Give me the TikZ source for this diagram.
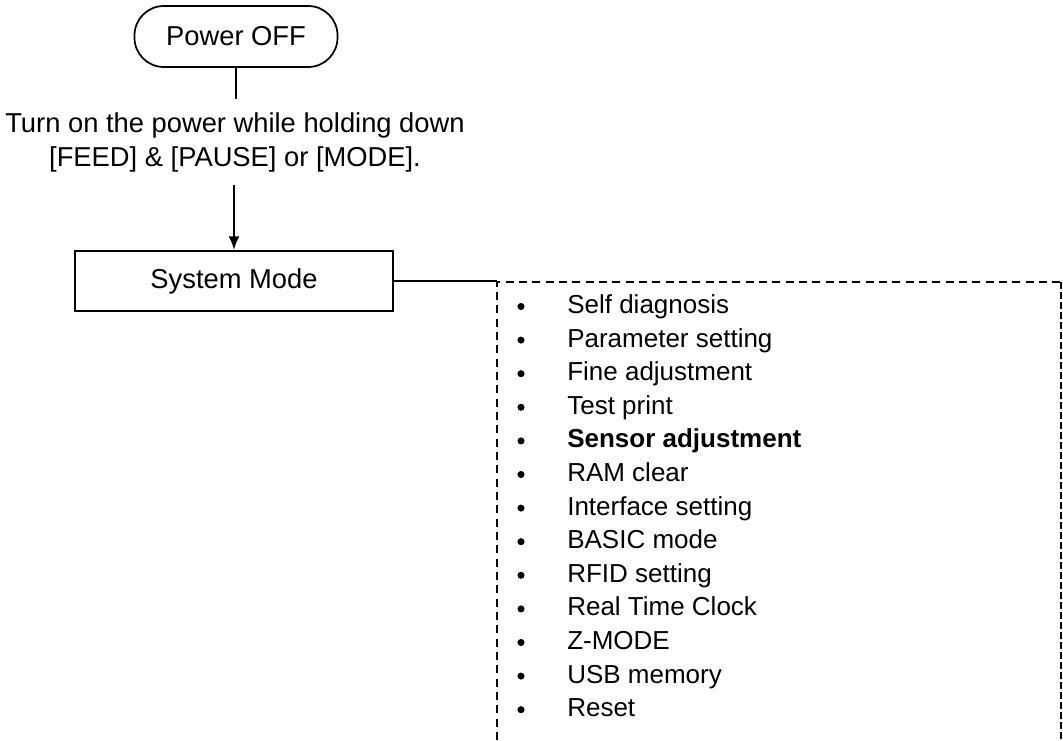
\documentclass[tikz,border=0pt]{standalone}
\usepackage{fontspec}
\setmainfont{Liberation Sans}
\usetikzlibrary{arrows.meta}
\begin{document}
\begin{tikzpicture}[x=0.75pt,y=-0.75pt,
  mainfont/.style={font=\fontsize{20.5pt}{25.5pt}\selectfont},
  listfont/.style={font=\fontsize{19.5pt}{24pt}\selectfont},
  terminal/.style={draw,line width=1.3pt,rounded corners=22pt,minimum width=152.25pt,minimum height=45.75pt,inner sep=0pt,mainfont},
  procbox/.style={draw,line width=1.8pt,minimum width=238.5pt,minimum height=45pt,inner sep=0pt,mainfont},
  conn/.style={line width=1.3pt},
  dashbox/.style={line width=1.3pt,dash pattern=on 6pt off 4pt},
  dashright/.style={line width=1.7pt,dash pattern=on 5pt off 2.5pt},
  bulletdot/.style={circle,fill,inner sep=0pt,minimum size=5.3pt},
  item/.style={anchor=base west,inner sep=0pt,listfont}]
\useasboundingbox (0,0) rectangle (1063,740);
\node[terminal] (power) at (236,36.5) {Power OFF};
\node[align=center,mainfont,inner sep=0pt,minimum height=64.5pt] (instr) at (235,142) {Turn on the power while holding down\\{}[FEED] \& [PAUSE] or [MODE].};
\node[procbox] (sys) at (234,281) {System Mode};
\draw[conn] (power.south) -- (power.south |- instr.north);
\draw[conn,-{Latex[length=10pt,width=8pt]}] (instr.south -| sys.north) -- (sys.north);
\coordinate (lstc) at (497,282);
\coordinate (lstbl) at (497,740);
\coordinate (lsttr) at (1061,282);
\coordinate (lstbr) at (1061,740);
\draw[conn] (sys.east) -- (sys.east -| lstc);
\draw[dashbox] (lstbl) -- (lstc) -- (lsttr);
\draw[dashright] (lsttr) -- (lstbr);
\foreach \t [count=\i from 0] in {Self diagnosis,Parameter setting,Fine adjustment,Test print,\textbf{Sensor adjustment},RAM clear,Interface setting,BASIC mode,RFID setting,Real Time Clock,Z-MODE,USB memory,Reset}{
  \node[bulletdot] (b\i) at (521,{313.5+33.6*\i-7}) {};
  \node[item] (t\i) at (567,{313.5+33.6*\i}) {\t};
}
\end{tikzpicture}
\end{document}
